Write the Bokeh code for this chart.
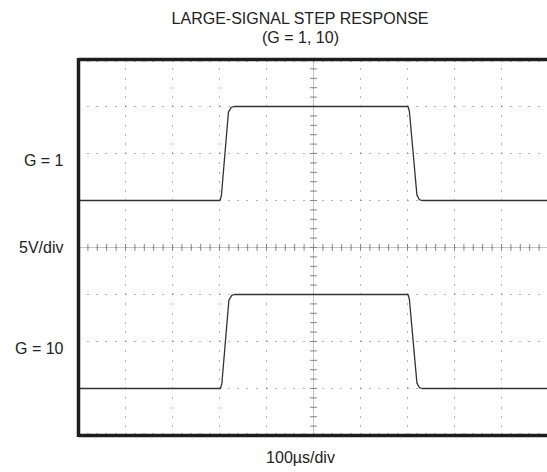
import numpy as np
from bokeh.plotting import figure
from bokeh.models import Range1d, Label
from bokeh.embed import file_html
from bokeh.resources import INLINE

# ---- data (time in µs, voltage in V; 100 µs/div, 5 V/div) ----
t_g1 = [0, 301, 304, 319, 325, 331, 701, 704, 720, 725, 731, 1000]
v_g1 = [5, 5, 5.5, 14.4, 14.9, 15, 15, 14.5, 5.6, 5.1, 5, 5]
t_g10 = [0, 302, 305, 320, 326, 332, 701, 704, 720, 725, 731, 1000]
v_g10 = [-15, -15, -14.5, -5.6, -5.1, -5, -5, -5.5, -14.4, -14.9, -15, -15]

side_labels = ["G = 1", "5V/div", "G = 10"]
title_lines = ["LARGE-SIGNAL STEP RESPONSE", "(G = 1, 10)"]
x_label = "100\u00b5s/div"

X_DIV = 100
Y_DIV = 5
PX_DIV = 47
W, H = 547, 472
FL, FT = 78, 59            # frame left/top in page pixels
px2t = X_DIV / PX_DIV
px2v = Y_DIV / PX_DIV


def tx(px):
    return (px - FL) * px2t


def vy(py):
    return 20 - (py - FT) * px2v


p = figure(width=W, height=H, output_backend="svg", toolbar_location=None,
           x_range=Range1d(tx(0), tx(W)), y_range=Range1d(vy(H), vy(0)),
           min_border=0)
p.title.visible = False
p.outline_line_color = None
p.xaxis.visible = False
p.yaxis.visible = False
p.xgrid.visible = False
p.ygrid.visible = False

x_end = tx(W)
dots = "1 8 1 8 1 8 1 9 1 9"
gx = np.arange(100, 1001, X_DIV)
gy = np.arange(-15, 15.01, Y_DIV)
p.segment(x0=gx, y0=-20, x1=gx, y1=20, line_color="#666666", line_dash=dots, line_width=1)
p.segment(x0=0, y0=gy, x1=x_end + 50, y1=gy, line_color="#666666", line_dash=dots, line_width=1)
# dotted rows just inside the frame edges
p.segment(x0=0, y0=[-20 + 2 * px2v, 20 - 2 * px2v], x1=x_end + 50,
          y1=[-20 + 2 * px2v, 20 - 2 * px2v], line_color="#888888", line_dash=dots, line_width=1)

# center cross
p.segment(x0=500, y0=-20, x1=500, y1=20, line_color="#8a8a8a", line_dash="1 1", line_width=1)
p.segment(x0=0, y0=0, x1=x_end + 50, y1=0, line_color="#8a8a8a", line_dash="1 1", line_width=1)
ttx = np.arange(0, 1001, X_DIV / 5)
tty = np.arange(-20, 20.01, Y_DIV / 5)
hy = 3.5 * px2v
hx = 3.5 * px2t
p.segment(x0=ttx, y0=-hy, x1=ttx, y1=hy, line_color="#888888", line_width=1)
p.segment(x0=500 - hx, y0=tty, x1=500 + hx, y1=tty, line_color="#888888", line_width=1)

# traces
p.line(t_g1, v_g1, line_color="#333333", line_width=1.3)
p.line(t_g10, v_g10, line_color="#333333", line_width=1.3)

# frame (left, top, bottom)
p.segment(x0=[0, 0, 0], y0=[-20 - 1.5 * px2v, 20, -20],
          x1=[0, x_end + 50, x_end + 50], y1=[20 + 1.5 * px2v, 20, -20],
          line_color="#1e1e1e", line_width=3.5)

font = "Liberation Sans"
tc = "#222222"
fs = "16px"
cx = tx(300)

for txt, py in zip(side_labels, [160, 247, 348]):
    p.add_layout(Label(x=tx(63), y=vy(py), text=txt, text_font=font,
                       text_font_size=fs, text_color=tc,
                       text_align="right", text_baseline="middle"))

p.add_layout(Label(x=cx, y=vy(18), text=title_lines[0], text_font=font,
                   text_font_size=fs, text_color=tc,
                   text_align="center", text_baseline="middle"))
p.add_layout(Label(x=cx, y=vy(37), text=title_lines[1], text_font=font,
                   text_font_size=fs, text_color=tc,
                   text_align="center", text_baseline="middle"))
p.add_layout(Label(x=cx, y=vy(457), text=x_label, text_font=font,
                   text_font_size=fs, text_color=tc,
                   text_align="center", text_baseline="middle"))

open("out.html", "w").write(file_html(p, INLINE))
